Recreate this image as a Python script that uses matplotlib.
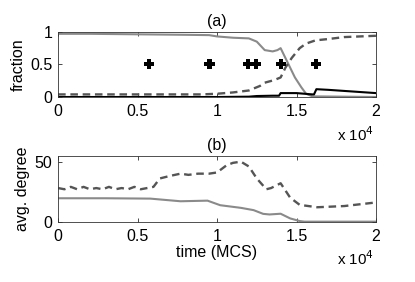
import matplotlib
matplotlib.use("Agg")
import matplotlib.pyplot as plt
from matplotlib.ticker import FuncFormatter, FixedLocator

plt.rcParams['font.family'] = ['Liberation Sans', 'DejaVu Sans']

# ---- panel (a) data (time in MCS) ----
t_a1 = [0, 2000, 4000, 6000, 8000, 9500, 10000, 11000, 12000, 12500, 13000, 13500,
        13800, 14000, 14300, 14600, 14900, 15300, 15600, 16000, 20000]
frac_a1 = [0.97, 0.97, 0.965, 0.96, 0.955, 0.95, 0.93, 0.91, 0.90, 0.85, 0.72, 0.70,
           0.72, 0.75, 0.60, 0.45, 0.30, 0.15, 0.05, 0.01, 0.0]

t_a2 = [0, 3000, 6000, 9000, 10000, 11000, 12000, 12700, 13000, 13600, 14000, 14300,
        14700, 15200, 15600, 16200, 17000, 18000, 20000]
frac_a2 = [0.04, 0.04, 0.04, 0.04, 0.05, 0.07, 0.10, 0.17, 0.22, 0.26, 0.30, 0.45,
           0.60, 0.75, 0.82, 0.87, 0.89, 0.92, 0.94]

t_a3 = [0, 10000, 12000, 12500, 13500, 13900, 14000, 15000, 16000, 16100, 16250, 17000, 20000]
frac_a3 = [0.0, 0.0, 0.005, 0.015, 0.02, 0.02, 0.06, 0.06, 0.04, 0.04, 0.12, 0.11, 0.06]

t_marks = [5750, 9500, 9550, 11950, 12450, 14050, 16250]
y_marks = [0.5, 0.5, 0.5, 0.5, 0.5, 0.5, 0.5]

# ---- panel (b) data ----
t_b1 = [0, 400, 800, 1200, 1600, 2000, 2400, 2800, 3200, 3600, 4000, 4400, 4800, 5200,
        5600, 6000, 6400, 7000, 7700, 8200, 8800, 9500, 10000, 10600, 11000, 11500,
        12000, 12500, 13100, 13400, 14000, 14600, 15200, 16300, 18000, 20000]
deg_b1 = [28, 27, 29, 27, 29, 27, 28, 27, 29, 27, 28, 27, 29, 27,
          28, 29, 36, 38, 40, 39, 40, 40, 41, 47, 49, 50,
          46, 36, 27, 28, 32, 20, 14, 12, 13, 16]

t_b2 = [0, 3000, 5800, 7700, 9400, 10200, 11500, 12300, 12900, 13300, 14000, 14600,
        15200, 15500, 20000]
deg_b2 = [19.5, 19.5, 19.2, 17, 17.5, 13.7, 11.5, 9.6, 6.5, 6, 6.6, 2.7, 0.5, 0, 0]

xticks = [0, 5000, 10000, 15000, 20000]

grey = '#8a8a8a'
dgrey = '#555555'
fs = 11.5
dash = (0, (3.2, 2.0))

fig = plt.figure(figsize=(4.15, 2.82), dpi=100)
ax1 = fig.add_axes([0.140, 0.656, 0.766, 0.231])
ax2 = fig.add_axes([0.140, 0.214, 0.766, 0.234])

fmt = FuncFormatter(lambda v, p: ('%g' % (v / 1e4)))

ax1.plot(t_a1, frac_a1, color=grey, lw=1.5, solid_joinstyle='round')
ax1.plot(t_a2, frac_a2, color=dgrey, lw=1.7, linestyle=dash)
ax1.plot(t_a3, frac_a3, color='black', lw=1.5)
ax1.plot(t_marks, y_marks, linestyle='none', marker='P', color='black',
         markersize=7, markeredgewidth=0)
ax1.set_xlim(0, 20000)
ax1.set_ylim(0, 1)
ax1.set_yticks([0, 0.5, 1])
ax1.set_yticklabels(['0', '0.5', '1'])
ax1.set_title('(a)', fontsize=fs, pad=4)

ax2.plot(t_b2, deg_b2, color=grey, lw=1.5)
ax2.plot(t_b1, deg_b1, color=dgrey, lw=1.7, linestyle=dash)
ax2.set_xlim(0, 20000)
ax2.set_ylim(0, 55)
ax2.set_yticks([0, 50])
ax2.set_title('(b)', fontsize=fs, pad=4)

for ax in (ax1, ax2):
    ax.xaxis.set_major_locator(FixedLocator(xticks))
    ax.xaxis.set_major_formatter(fmt)
    ax.tick_params(direction='in', top=True, right=True, labelsize=fs,
                   length=3, width=0.5)
    ax.tick_params(axis='x', pad=5)
    ax.tick_params(axis='y', pad=4)
    for s in ax.spines.values():
        s.set_linewidth(0.6)
        s.set_color('#333333')

fig.text(18 / 415, 1 - 65 / 282, 'fraction', fontsize=fs, rotation=90,
         ha='center', va='center')
fig.text(22 / 415, 1 - 189 / 282, 'avg. degree', fontsize=fs, rotation=90,
         ha='center', va='center')
fig.text(217 / 415, 1 - 253 / 282, 'time (MCS)', fontsize=fs, ha='center', va='center')

fig.text(355 / 415, 1 - 135 / 282, r'x 10$^4$', fontsize=fs * 0.95, ha='center', va='center')
fig.text(355 / 415, 1 - 259 / 282, r'x 10$^4$', fontsize=fs * 0.95, ha='center', va='center')

fig.savefig('out.png', dpi=100)
